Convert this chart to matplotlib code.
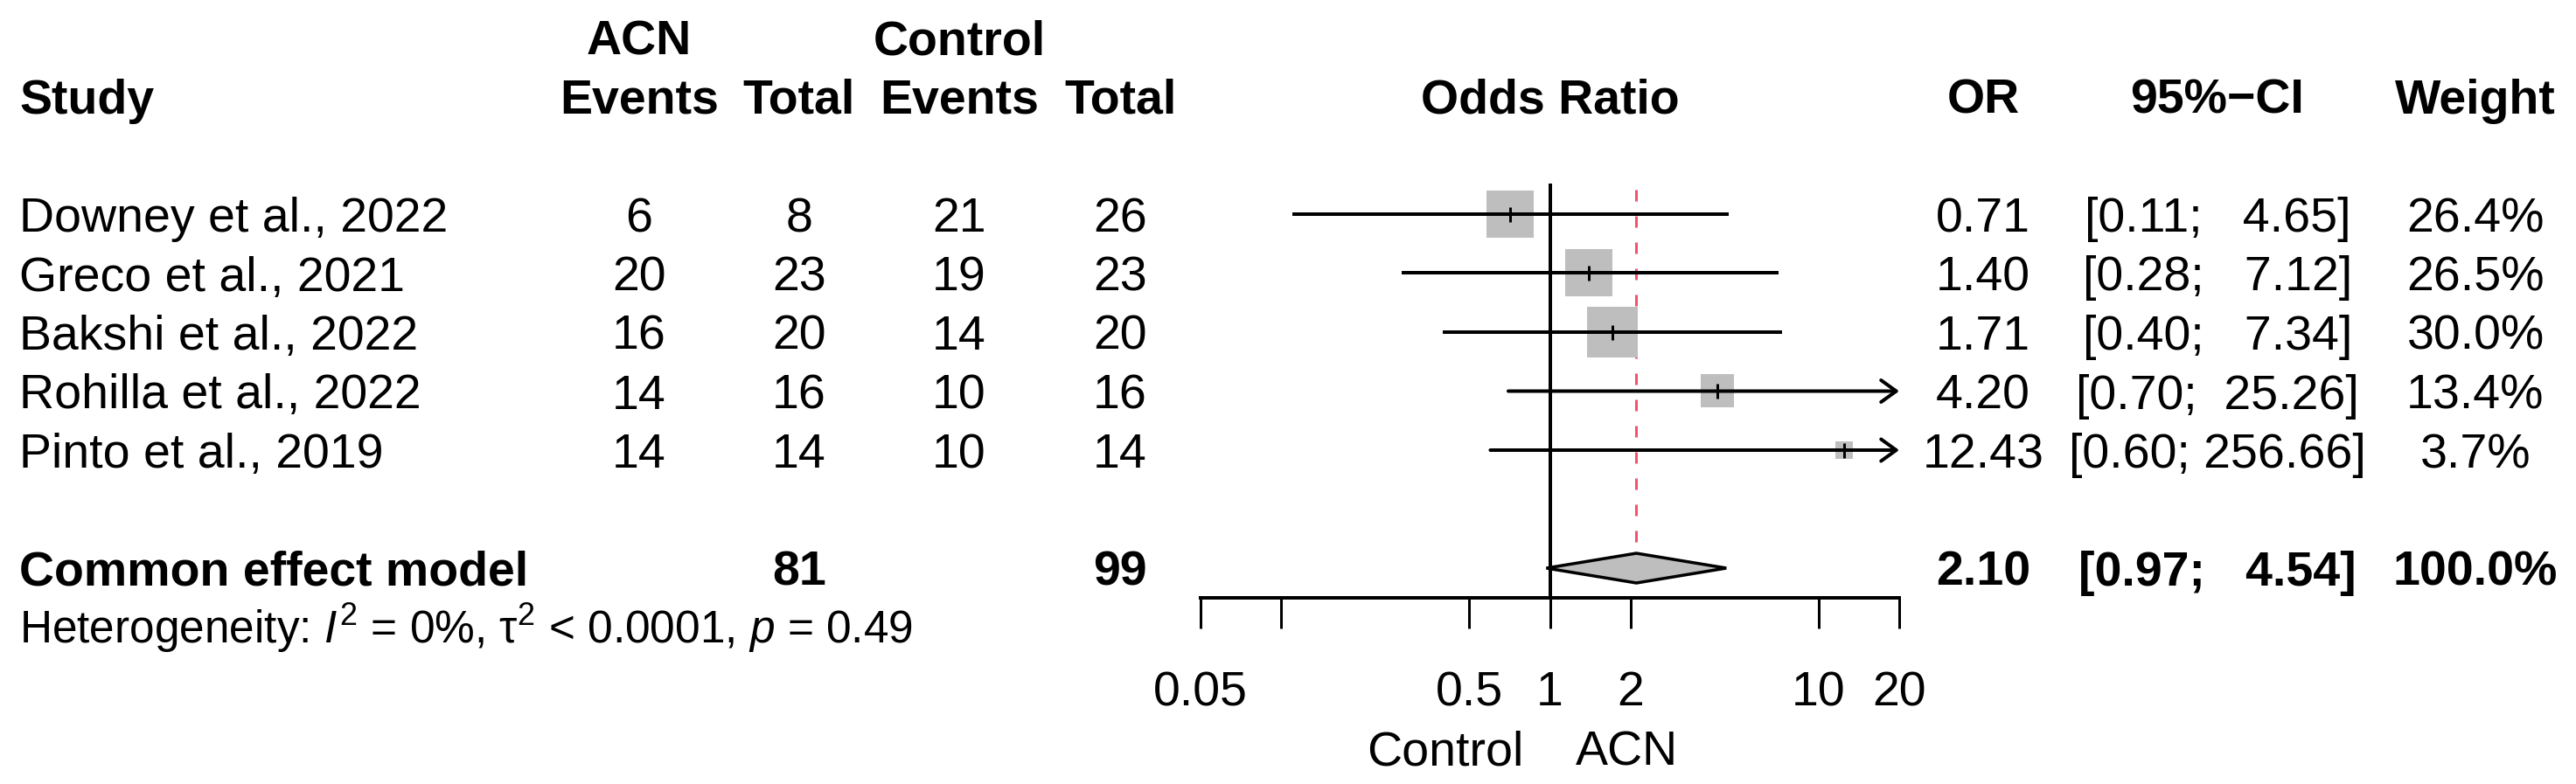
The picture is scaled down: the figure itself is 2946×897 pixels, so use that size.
import numpy as np
import matplotlib
matplotlib.use("Agg")
import matplotlib.pyplot as plt
from matplotlib.ticker import NullLocator

plt.rcParams['font.family'] = ['Liberation Sans', 'DejaVu Sans']
plt.rcParams['mathtext.fontset'] = 'custom'
plt.rcParams['mathtext.rm'] = 'Liberation Sans'
plt.rcParams['mathtext.it'] = 'Liberation Sans:italic'
plt.rcParams['lines.scale_dashes'] = False

# study data
studies = ["Downey et al., 2022", "Greco et al., 2021", "Bakshi et al., 2022",
           "Rohilla et al., 2022", "Pinto et al., 2019"]
acn_events = [6, 20, 16, 14, 14]
acn_total = [8, 23, 20, 16, 14]
ctrl_events = [21, 19, 14, 10, 10]
ctrl_total = [26, 23, 20, 16, 14]
odds_ratio = [0.71, 1.40, 1.71, 4.20, 12.43]
ci_lower = [0.11, 0.28, 0.40, 0.70, 0.60]
ci_upper = [4.65, 7.12, 7.34, 25.26, 256.66]
weights = [26.4, 26.5, 30.0, 13.4, 3.7]

# common effect model
pooled_or = 2.10
pooled_lower = 0.97
pooled_upper = 4.54
pooled_acn_total = 81
pooled_ctrl_total = 99
het_text = r"Heterogeneity: $I^2$ = 0%, τ$^2$ < 0.0001, $p$ = 0.49"

xticks = [0.05, 0.1, 0.5, 1, 2, 10, 20]
xticklabels = ["0.05", "", "0.5", "1", "2", "10", "20"]
xlims = (0.05, 20)

W, H = 2946, 897
DPI = 100
PX = 72.0 / DPI  # points per pixel
FS = 40

ROW0, DY = 245, 67.5


def row_y(r):
    return ROW0 + DY * r


def base(r, fs=FS):
    # baseline so that the cap height is centred on the row
    return row_y(r) + 0.36 * fs / PX


fig = plt.figure(figsize=(W / DPI, H / DPI), dpi=DPI)
tx = fig.add_axes([0, 0, 1, 1])
tx.set_xlim(0, W)
tx.set_ylim(H, 0)
tx.axis('off')

x_study = 22
x_acn_ev, x_acn_tot = 731, 914
x_ctl_ev, x_ctl_tot = 1097, 1281
x_or, x_ci, x_w = 2268, 2536, 2831
left, right = 1373, 2172

# headers
hb = dict(fontsize=FS, fontweight='bold', va='baseline')
tx.text(x_acn_ev, base(-3), "ACN", ha='center', **hb)
tx.text(x_ctl_ev, base(-3), "Control", ha='center', **hb)
tx.text(x_study, base(-2), "Study", ha='left', **hb)
tx.text(x_acn_ev, base(-2), "Events", ha='center', **hb)
tx.text(x_acn_tot, base(-2), "Total", ha='center', **hb)
tx.text(x_ctl_ev, base(-2), "Events", ha='center', **hb)
tx.text(x_ctl_tot, base(-2), "Total", ha='center', **hb)
tx.text(x_or, base(-2), "OR", ha='center', **hb)
tx.text(x_ci, base(-2), "95%\u2212CI", ha='center', **hb)
tx.text(x_w, base(-2), "Weight", ha='center', **hb)

# study rows
up_w = max(len(f"{u:.2f}") for u in ci_upper + [pooled_upper])
nb = dict(fontsize=FS, va='baseline')
for i, name in enumerate(studies):
    y = base(i)
    tx.text(x_study, y, name, ha='left', **nb)
    tx.text(x_acn_ev, y, str(acn_events[i]), ha='center', **nb)
    tx.text(x_acn_tot, y, str(acn_total[i]), ha='center', **nb)
    tx.text(x_ctl_ev, y, str(ctrl_events[i]), ha='center', **nb)
    tx.text(x_ctl_tot, y, str(ctrl_total[i]), ha='center', **nb)
    tx.text(x_or, y, f"{odds_ratio[i]:.2f}", ha='center', **nb)
    tx.text(x_ci, y, f"[{ci_lower[i]:.2f}; " + f"{ci_upper[i]:.2f}".rjust(up_w) + "]",
            ha='center', **nb)
    tx.text(x_w, y, f"{weights[i]:.1f}%", ha='center', **nb)

# pooled row
y = base(6)
tx.text(x_study, y, "Common effect model", ha='left', **hb)
tx.text(x_acn_tot, y, str(pooled_acn_total), ha='center', **hb)
tx.text(x_ctl_tot, y, str(pooled_ctrl_total), ha='center', **hb)
tx.text(x_or, y, f"{pooled_or:.2f}", ha='center', **hb)
tx.text(x_ci, y, f"[{pooled_lower:.2f}; " + f"{pooled_upper:.2f}".rjust(up_w) + "]",
        ha='center', **hb)
tx.text(x_w, y, f"{sum(weights):.1f}%", ha='center', **hb)

tx.text(x_study, base(7, 37), het_text, ha='left', fontsize=37, va='baseline')

# forest panel
ax = fig.add_axes([left / W, 0, (right - left) / W, 1])
ax.set_xscale('log')
ax.set_xlim(*xlims)
ax.set_ylim(H, 0)
ax.patch.set_visible(False)
for s in ['left', 'right', 'top']:
    ax.spines[s].set_visible(False)
ax.yaxis.set_visible(False)

axis_y = row_y(6.5)
ax.spines['bottom'].set_position(('data', axis_y))
ax.spines['bottom'].set_linewidth(4 * PX)
ax.set_xticks(xticks)
ax.set_xticklabels(xticklabels, fontsize=FS)
ax.xaxis.set_minor_locator(NullLocator())
ax.tick_params(axis='x', direction='out', length=35 * PX, width=3 * PX, pad=35)

lw = 4 * PX
# null line
ax.plot([1, 1], [210, axis_y], color='black', lw=lw, solid_capstyle='butt', zorder=2)
# common effect dashed line
ax.plot([pooled_or, pooled_or], [217, row_y(6) - 27], color='#F5506E', lw=3 * PX,
        dashes=(13 * PX, 17 * PX), zorder=1)

side_px = 54 / np.sqrt(26.4) * np.sqrt(np.array(weights))
for i in range(len(studies)):
    y = row_y(i)
    ax.scatter([odds_ratio[i]], [y], marker='s', s=(side_px[i] * PX) ** 2,
               color='#BEBEBE', linewidths=0, zorder=3)
    hi = ci_upper[i]
    if hi > xlims[1]:
        ax.annotate('', xy=(xlims[1], y), xytext=(ci_lower[i], y),
                    arrowprops=dict(arrowstyle='->,head_length=1.25,head_width=0.9',
                                    lw=lw, color='black', shrinkA=0, shrinkB=0,
                                    mutation_scale=10),
                    annotation_clip=False, zorder=4)
    else:
        ax.plot([ci_lower[i], hi], [y, y], color='black', lw=lw,
                solid_capstyle='butt', zorder=4)
    ax.plot([odds_ratio[i]], [y], marker='|', markersize=17 * PX, mew=3 * PX,
            color='black', zorder=5)

# diamond
yp = row_y(6)
dh = 17
ax.fill([pooled_lower, pooled_or, pooled_upper, pooled_or],
        [yp, yp - dh, yp, yp + dh], facecolor='#BEBEBE', edgecolor='black',
        lw=3.5 * PX, zorder=4)

ax.text(1, base(-2), "Odds Ratio", ha='center', va='baseline', fontsize=FS, fontweight='bold')
ax.text(0.80, base(9.05), "Control", ha='right', va='baseline', fontsize=FS)
ax.text(1.25, base(9.05), "ACN", ha='left', va='baseline', fontsize=FS)

fig.savefig("out.png", dpi=DPI)
